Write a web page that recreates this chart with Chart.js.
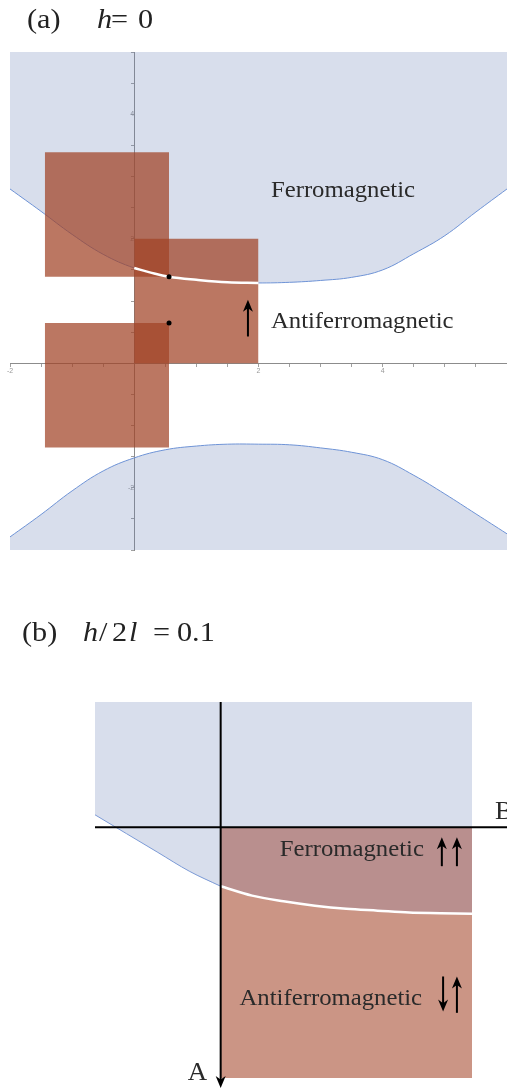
<!DOCTYPE html>
<html>
<head>
<meta charset="utf-8">
<script src="https://cdn.jsdelivr.net/npm/chart.js@4.4.1/dist/chart.umd.min.js"></script>
<style>
  html, body { margin: 0; padding: 0; background: #fff; }
  #page { position: relative; width: 507px; height: 1090px; overflow: hidden; }
  canvas { position: absolute; left: 0; }
  #chartA { top: 0; }
  #chartB { top: 580px; }
  .ttl { position: absolute; font-family: 'Liberation Serif', serif; font-size: 27px; line-height: 27px; color: #222; white-space: nowrap; transform: scaleX(1.12); transform-origin: left; }
  .ttl i { font-style: italic; }
</style>
</head>
<body>
<div id="page">
  <canvas id="chartA" width="511" height="580"></canvas>
  <canvas id="chartB" width="507" height="510"></canvas>
  <span class="ttl" style="left:27px;top:6px">(a)</span>
  <span class="ttl" style="left:97px;top:6px"><i>h</i></span>
  <span class="ttl" style="left:111px;top:6px">=</span>
  <span class="ttl" style="left:138px;top:6px">0</span>
  <span class="ttl" style="left:22px;top:619px">(b)</span>
  <span class="ttl" style="left:83px;top:619px"><i>h</i></span>
  <span class="ttl" style="left:99px;top:619px">/</span>
  <span class="ttl" style="left:112px;top:619px">2</span>
  <span class="ttl" style="left:129px;top:619px"><i>l</i></span>
  <span class="ttl" style="left:153px;top:619px">=</span>
  <span class="ttl" style="left:177px;top:619px">0.1</span>
</div>
<script>
// ---- panel (a): h = 0 ----
const xsA = [-2, -1.5, -1, -0.5, 0, 0.5, 1, 1.5, 2, 2.5, 3, 3.5, 4, 4.5, 5, 5.5, 6];
const upperA = [2.80, 2.44, 2.07, 1.75, 1.53, 1.40, 1.34, 1.30, 1.29, 1.30, 1.33, 1.38, 1.50, 1.76, 2.05, 2.43, 2.80];
const lowerA = [-2.79, -2.43, -2.05, -1.73, -1.52, -1.39, -1.33, -1.30, -1.30, -1.31, -1.36, -1.43, -1.55, -1.80, -2.10, -2.42, -2.74];
// part of the upper boundary drawn in white
const whiteXsA = [0, 0.25, 0.56, 1, 1.5, 2];
const whiteA = [1.53, 1.46, 1.39, 1.34, 1.30, 1.29];
// squares as [x0, x1, y0, y1]
const squaresA = [[-1.44, 0.56, 1.39, 3.39], [0, 2, 0, 2], [-1.44, 0.56, -1.355, 0.645]];
const dotsA = [[0.56, 1.39], [0.56, 0.645]];
const tickLabelsA = [-2, 2, 4];
// spin arrow: [x, yFrom, yTo]
const arrowA = [1.83, 0.43, 1.02];

// ---- panel (b): h/2l = 0.1 ----
const xsB = [-1, -0.75, -0.5, -0.25, 0, 0.25, 0.5, 0.75, 1, 1.25, 1.5, 1.75, 2];
const curveB = [0.10, -0.05, -0.20, -0.35, -0.47, -0.545, -0.59, -0.625, -0.65, -0.665, -0.68, -0.685, -0.69];
const arrowsB = [[1.76, -0.31, -0.08], [1.88, -0.31, -0.08], [1.77, -1.19, -1.47], [1.88, -1.48, -1.19]];

const pts = (xs, ys) => xs.map((x, i) => ({ x, y: ys[i] }));

function arrow(ctx, px, yFrom, yTo, w) {
  const dir = Math.sign(yTo - yFrom);
  const head = 12, half = 5;
  ctx.save();
  ctx.strokeStyle = '#000'; ctx.fillStyle = '#000'; ctx.lineWidth = w;
  ctx.beginPath(); ctx.moveTo(px, yFrom); ctx.lineTo(px, yTo - dir * head * 0.6); ctx.stroke();
  ctx.beginPath();
  ctx.moveTo(px, yTo);
  ctx.lineTo(px - half, yTo - dir * head);
  ctx.lineTo(px, yTo - dir * head * 0.7);
  ctx.lineTo(px + half, yTo - dir * head);
  ctx.closePath(); ctx.fill();
  ctx.restore();
}

function serifText(ctx, s, px, py, size) {
  ctx.save();
  ctx.translate(px, py); ctx.scale(1.03, 1);
  ctx.font = size + 'px "Liberation Serif"';
  ctx.fillStyle = '#2a2a2a'; ctx.textBaseline = 'alphabetic';
  ctx.fillText(s, 0, 0);
  ctx.restore();
}

const lineA = { pointRadius: 0, tension: 0.4 };
const lineB = { pointRadius: 0, cubicInterpolationMode: 'monotone' };

const dsA = [
  { ...lineA, data: pts(xsA, upperA), borderColor: '#6e93d6', borderWidth: 1, backgroundColor: 'rgba(99,123,179,0.25)', fill: 'end', order: 10 },
  { ...lineA, data: pts(xsA, lowerA), borderColor: '#6e93d6', borderWidth: 1, backgroundColor: 'rgba(99,123,179,0.25)', fill: 'start', order: 10 },
  ...squaresA.map(s => ({ ...lineA, data: [{ x: s[0], y: s[3] }, { x: s[1], y: s[3] }], borderWidth: 0, backgroundColor: 'rgba(161,66,38,0.72)', fill: { value: s[2] }, order: 5 })),
  { ...lineA, data: pts(whiteXsA, whiteA), borderColor: '#fff', borderWidth: 2.5, fill: false, order: 2 },
  { data: dotsA.map(d => ({ x: d[0], y: d[1] })), showLine: false, pointRadius: 2.5, pointBackgroundColor: '#000', pointBorderWidth: 0, order: 1 }
];

const axisA = (min, max, pos) => ({
  type: 'linear', min, max, position: pos,
  grid: { drawOnChartArea: false, drawTicks: true, tickLength: 3, color: '#a0a0a0' },
  border: { color: '#8c8c8c' },
  ticks: { stepSize: 0.5, autoSkip: false, maxRotation: 0, padding: 1, color: '#999', font: { size: 7 },
    callback: v => tickLabelsA.includes(v) ? String(v) : '' }
});

const annotateA = {
  id: 'annotateA',
  afterDatasetsDraw(chart) {
    const { ctx, scales: { x, y } } = chart;
    arrow(ctx, x.getPixelForValue(arrowA[0]), y.getPixelForValue(arrowA[1]), y.getPixelForValue(arrowA[2]), 2);
    serifText(ctx, 'Ferromagnetic', x.getPixelForValue(2.20), y.getPixelForValue(2.67), 24);
    serifText(ctx, 'Antiferromagnetic', x.getPixelForValue(2.20), y.getPixelForValue(0.566), 24);
  }
};

new Chart(document.getElementById('chartA'), {
  type: 'line',
  data: { datasets: dsA },
  options: {
    responsive: false, animation: false,
    layout: { padding: { left: 10, top: 52, right: 0, bottom: 30 } },
    plugins: { legend: { display: false }, tooltip: { enabled: false } },
    scales: { x: axisA(-2, 6, { y: 0 }), y: axisA(-3, 5, { x: 0 }) }
  },
  plugins: [annotateA]
});

const leftB = xsB.slice(0, 5), rightB = xsB.slice(4);
const dsB = [
  { ...lineB, data: pts(xsB, curveB), borderWidth: 0, backgroundColor: '#d8deec', fill: 'end', order: 10 },
  { ...lineB, data: pts(rightB, curveB.slice(4)), borderWidth: 0, backgroundColor: '#b98f8e', fill: { value: 0 }, order: 8 },
  { ...lineB, data: pts(rightB, curveB.slice(4)), borderWidth: 0, backgroundColor: '#cb9585', fill: 'start', order: 8 },
  { ...lineB, data: pts(leftB, curveB.slice(0, 5)), borderColor: '#7b9ad6', borderWidth: 1, fill: false, order: 3 },
  { ...lineB, data: pts(rightB, curveB.slice(4)), borderColor: '#fff', borderWidth: 2.5, fill: false, order: 2 }
];

const annotateB = {
  id: 'annotateB',
  afterDatasetsDraw(chart) {
    const { ctx, chartArea, scales: { x, y } } = chart;
    const x0 = x.getPixelForValue(0), y0 = y.getPixelForValue(0);
    ctx.save();
    ctx.strokeStyle = '#000'; ctx.lineWidth = 2;
    ctx.beginPath(); ctx.moveTo(chartArea.left, y0); ctx.lineTo(chart.width, y0); ctx.stroke();
    ctx.restore();
    arrow(ctx, x0, chartArea.top, chartArea.bottom + 10, 2);
    arrowsB.forEach(a => arrow(ctx, x.getPixelForValue(a[0]), y.getPixelForValue(a[1]), y.getPixelForValue(a[2]), 2));
    serifText(ctx, 'Ferromagnetic', x.getPixelForValue(0.47), y.getPixelForValue(-0.23), 24);
    serifText(ctx, 'Antiferromagnetic', x.getPixelForValue(0.15), y.getPixelForValue(-1.42), 24);
    serifText(ctx, 'A', x0 - 33, chartArea.bottom + 2, 26);
    serifText(ctx, 'B', chart.width - 12, y0 - 8, 26);
  }
};

new Chart(document.getElementById('chartB'), {
  type: 'line',
  data: { datasets: dsB },
  options: {
    responsive: false, animation: false,
    layout: { padding: { left: 95, top: 122, right: 35, bottom: 12 } },
    plugins: { legend: { display: false }, tooltip: { enabled: false } },
    scales: {
      x: { type: 'linear', min: -1, max: 2, display: false },
      y: { type: 'linear', min: -2, max: 1, display: false }
    }
  },
  plugins: [annotateB]
});
</script>
</body>
</html>
